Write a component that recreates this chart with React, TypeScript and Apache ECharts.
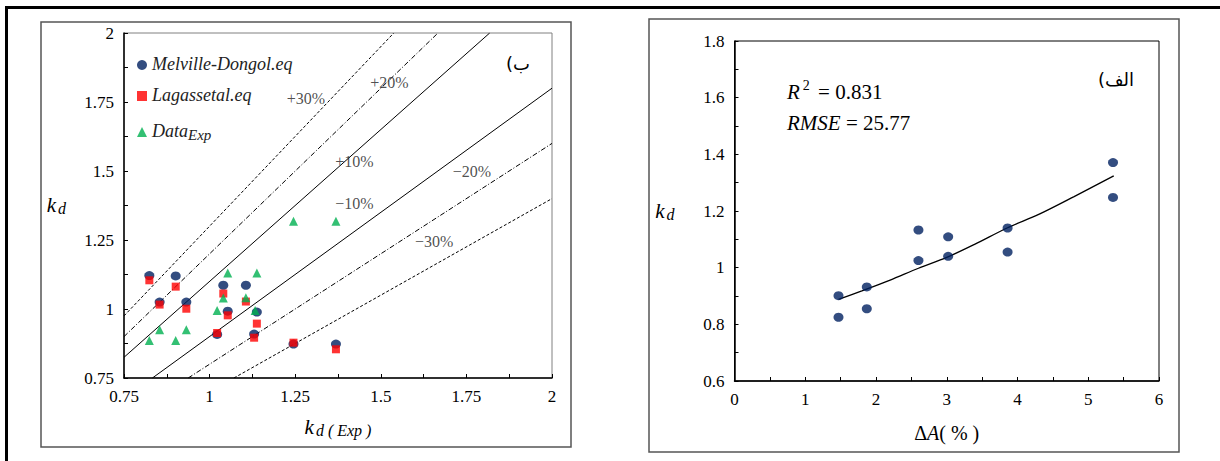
import React, { useEffect, useRef } from "react";
import * as echarts from "echarts";

const FONT = "Liberation Serif";

// ---- Left chart (ب) ----
const kdExp = [0.824, 0.901, 0.854, 0.932, 1.040, 1.106, 1.053, 1.138, 1.022, 1.130, 1.245, 1.369];
const melville = [1.121, 1.120, 1.025, 1.025, 1.086, 1.086, 0.992, 0.989, 0.908, 0.909, 0.873, 0.873];
const lagasse = [1.104, 1.081, 1.016, 1.001, 1.056, 1.027, 0.977, 0.947, 0.913, 0.896, 0.878, 0.854];
const expX = [0.824, 0.854, 0.901, 0.932, 1.022, 1.040, 1.053, 1.106, 1.133, 1.138, 1.245, 1.369];
const expY = [0.886, 0.925, 0.886, 0.925, 0.995, 1.040, 1.130, 1.041, 0.995, 1.130, 1.318, 1.318];

const plus30 = [[0.75, 0.975], [1.538, 2]];
const plus20 = [[0.75, 0.9], [1.667, 2]];
const plus10 = [[0.75, 0.825], [1.818, 2]];
const minus10 = [[0.833, 0.75], [2, 1.8]];
const minus20 = [[0.9375, 0.75], [2, 1.6]];
const minus30 = [[1.071, 0.75], [2, 1.4]];

const bandLabels = ["+30%", "+20%", "+10%", "−10%", "−20%", "−30%"];
const bandLabelX = [1.281, 1.525, 1.423, 1.423, 1.766, 1.656];
const bandLabelY = [1.761, 1.819, 1.536, 1.384, 1.5, 1.246];

// ---- Right chart (الف) ----
const deltaA = [1.47, 1.47, 1.87, 1.87, 2.6, 2.6, 3.02, 3.02, 3.86, 3.86, 5.35, 5.35];
const kd = [0.901, 0.825, 0.932, 0.855, 1.133, 1.025, 1.109, 1.040, 1.140, 1.055, 1.371, 1.248];
const trendX = [1.47, 1.8, 2.2, 2.6, 3.0, 3.4, 3.86, 4.3, 4.8, 5.36];
const trendY = [0.888, 0.918, 0.956, 0.998, 1.036, 1.083, 1.141, 1.188, 1.251, 1.324];

const zip = (a: number[], b: number[]) => a.map((v, i) => [v, b[i]]);

const axisCommon = (color: string) => ({
  type: "value" as const,
  axisLine: { show: true, onZero: false, lineStyle: { color, width: 1.5 } },
  axisTick: { show: true, inside: true, length: 4, lineStyle: { color: "#000" } },
  minorTick: { show: true, splitNumber: 2, length: 4, lineStyle: { color: "#000" } },
  splitLine: { show: false },
  axisLabel: { fontFamily: FONT, fontSize: 17, color: "#000", margin: 10 },
});

const kdRich = {
  k: { fontFamily: FONT, fontStyle: "italic", fontSize: 21, color: "#000", verticalAlign: "top", lineHeight: 22 },
  d: { fontFamily: FONT, fontStyle: "italic", fontSize: 16, color: "#000", verticalAlign: "bottom", lineHeight: 16, padding: [12, 0, 0, 2] },
};

const refLine = (data: number[][], type: any) => ({
  type: "line",
  xAxisIndex: 0,
  yAxisIndex: 0,
  data,
  symbol: "none",
  silent: true,
  clip: true,
  lineStyle: { color: "#000", width: 1, type },
  z: 1,
});

export default function App() {
  const ref = useRef<HTMLDivElement>(null);
  useEffect(() => {
    document.body.style.margin = "0";
    const chart = echarts.init(ref.current!, null, { renderer: "svg" });
    const option: any = {
      animation: false,
      backgroundColor: "#fff",
      textStyle: { fontFamily: FONT },
      grid: [
        { left: 124, top: 33, width: 428, height: 345, show: true, borderColor: "#808080", borderWidth: 1 },
        { left: 734.5, top: 41, width: 424.5, height: 340, show: true, borderColor: "#000", borderWidth: 1 },
      ],
      xAxis: [
        {
          ...axisCommon("#000"),
          gridIndex: 0,
          min: 0.75,
          max: 2,
          interval: 0.25,
          name: "{k|k}{d|d ( Exp )}",
          nameLocation: "middle",
          nameGap: 38,
          nameTextStyle: { fontFamily: FONT, rich: kdRich },
        },
        {
          ...axisCommon("#000"),
          gridIndex: 1,
          min: 0,
          max: 6,
          interval: 1,
          name: "{u|Δ}{i|A}{u|( % )}",
          nameLocation: "middle",
          nameGap: 42,
          nameTextStyle: {
            fontFamily: FONT,
            rich: {
              u: { fontFamily: FONT, fontSize: 20, color: "#000" },
              i: { fontFamily: FONT, fontSize: 20, fontStyle: "italic", color: "#000" },
            },
          },
        },
      ],
      yAxis: [
        {
          ...axisCommon("#000"),
          gridIndex: 0,
          min: 0.75,
          max: 2,
          interval: 0.25,
          name: "{k|k}{d|d}",
          nameLocation: "middle",
          nameRotate: 0,
          nameGap: 58,
          nameTextStyle: { fontFamily: FONT, rich: kdRich },
        },
        {
          ...axisCommon("#000"),
          gridIndex: 1,
          min: 0.6,
          max: 1.8,
          interval: 0.2,
          name: "{k|k}{d|d}",
          nameLocation: "middle",
          nameRotate: 0,
          nameGap: 60,
          nameTextStyle: { fontFamily: FONT, rich: kdRich },
        },
      ],
      legend: {
        show: true,
        orient: "vertical",
        left: 137,
        top: 55,
        padding: 0,
        itemGap: 13,
        itemWidth: 10,
        itemHeight: 10,
        selectedMode: false,
        data: ["Melville-Dongol.eq", "Lagassetal.eq", "Data_Exp"],
        formatter: (name: string) => (name === "Data_Exp" ? "{a|Data}{b|Exp}" : "{a|" + name + "}"),
        textStyle: {
          fontFamily: FONT,
          rich: {
            a: { fontFamily: FONT, fontStyle: "italic", fontSize: 18, color: "#222", verticalAlign: "top", lineHeight: 20 },
            b: { fontFamily: FONT, fontStyle: "italic", fontSize: 15, color: "#222", verticalAlign: "bottom", lineHeight: 15, padding: [10, 0, 0, 0] },
          },
        },
      },
      series: [
        refLine(plus30, [3, 2]),
        refLine(plus20, [5, 2, 1, 2]),
        refLine(plus10, "solid"),
        refLine(minus10, "solid"),
        refLine(minus20, [5, 2, 1, 2]),
        refLine(minus30, [3, 2]),
        {
          type: "scatter",
          name: "bandLabels",
          xAxisIndex: 0,
          yAxisIndex: 0,
          data: bandLabelX.map((x, i) => [x, bandLabelY[i], bandLabels[i]]),
          symbolSize: 0,
          silent: true,
          label: {
            show: true,
            position: "inside",
            formatter: (p: any) => p.value[2],
            fontFamily: FONT,
            fontSize: 16,
            color: "#222",
          },
          z: 3,
        },
        {
          type: "scatter",
          name: "Melville-Dongol.eq",
          xAxisIndex: 0,
          yAxisIndex: 0,
          data: zip(kdExp, melville),
          symbol: "circle",
          symbolSize: [10, 9],
          itemStyle: { color: "#002060" },
          z: 4,
        },
        {
          type: "scatter",
          name: "Lagassetal.eq",
          xAxisIndex: 0,
          yAxisIndex: 0,
          data: zip(kdExp, lagasse),
          symbol: "rect",
          symbolSize: 8,
          itemStyle: { color: "#FF0000" },
          z: 5,
        },
        {
          type: "scatter",
          name: "Data_Exp",
          xAxisIndex: 0,
          yAxisIndex: 0,
          data: zip(expX, expY),
          symbol: "triangle",
          symbolSize: 9,
          itemStyle: { color: "#00B050" },
          z: 6,
        },
        {
          type: "line",
          name: "fit",
          xAxisIndex: 1,
          yAxisIndex: 1,
          data: zip(trendX, trendY),
          smooth: 0.3,
          symbol: "none",
          lineStyle: { color: "#000", width: 1.3 },
          z: 2,
        },
        {
          type: "scatter",
          name: "kd",
          xAxisIndex: 1,
          yAxisIndex: 1,
          data: zip(deltaA, kd),
          symbol: "circle",
          symbolSize: [10, 9],
          itemStyle: { color: "#002060" },
          z: 4,
        },
      ],
      graphic: [
        { type: "line", shape: { x1: 5, y1: 7.5, x2: 1220, y2: 7.5 }, style: { stroke: "#000", lineWidth: 3 } },
        { type: "line", shape: { x1: 6.5, y1: 6, x2: 6.5, y2: 461 }, style: { stroke: "#000", lineWidth: 3 } },
        { type: "rect", shape: { x: 41, y: 22, width: 530, height: 425 }, style: { fill: "none", stroke: "#555", lineWidth: 1.5 } },
        { type: "rect", shape: { x: 649, y: 19, width: 530, height: 433 }, style: { fill: "none", stroke: "#555", lineWidth: 1.5 } },
        {
          type: "text",
          x: 518,
          y: 63,
          style: { text: "(ب", fontFamily: "DejaVu Sans", fontSize: 18, fill: "#000", align: "center", verticalAlign: "middle" },
        },
        {
          type: "text",
          x: 1116,
          y: 79,
          style: { text: "(الف", fontFamily: "DejaVu Sans", fontSize: 18, fill: "#000", align: "center", verticalAlign: "middle" },
        },
        {
          type: "text",
          x: 787,
          y: 90,
          style: {
            text: "{i|R}{s|2}{n| = 0.831}",
            fontFamily: FONT,
            verticalAlign: "middle",
            align: "left",
            rich: {
              i: { fontFamily: FONT, fontStyle: "italic", fontSize: 21, fill: "#000", verticalAlign: "bottom", lineHeight: 24 },
              s: { fontFamily: FONT, fontSize: 14, fill: "#000", verticalAlign: "top", lineHeight: 14, padding: [0, 3, 0, 3] },
              n: { fontFamily: FONT, fontSize: 21, fill: "#000", verticalAlign: "bottom", lineHeight: 24 },
            },
          },
        },
        {
          type: "text",
          x: 787,
          y: 123,
          style: {
            text: "{i|RMSE}{n| = 25.77}",
            fontFamily: FONT,
            verticalAlign: "middle",
            align: "left",
            rich: {
              i: { fontFamily: FONT, fontStyle: "italic", fontSize: 21, fill: "#000" },
              n: { fontFamily: FONT, fontSize: 21, fill: "#000" },
            },
          },
        },
      ],
    };
    chart.setOption(option);
    return () => chart.dispose();
  }, []);
  return <div ref={ref} style={{ width: 1220, height: 461 }} />;
}
